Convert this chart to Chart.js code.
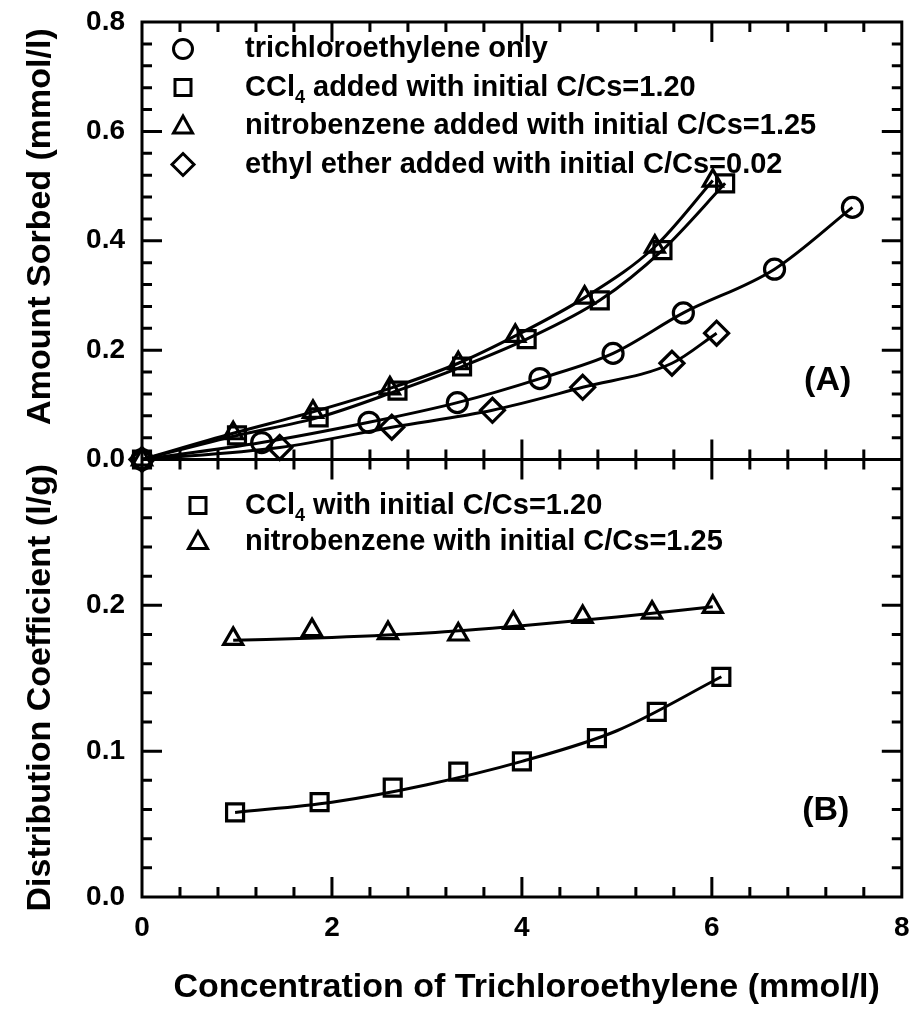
<!DOCTYPE html>
<html>
<head>
<meta charset="utf-8">
<script src="https://cdn.jsdelivr.net/npm/chart.js@4.4.0/dist/chart.umd.min.js"></script>
<style>
html, body { margin: 0; padding: 0; background: #fff; }
</style>
</head>
<body>
<canvas id="sorption" width="917" height="1017"></canvas>
<script>
// panel (A): amount sorbed vs TCE concentration
const tceX = [0, 1.26, 2.39, 3.32, 4.19, 4.96, 5.70, 6.66, 7.48];
const tceY = [0, 0.031, 0.068, 0.104, 0.148, 0.194, 0.268, 0.348, 0.461];
const cclX = [0, 1.00, 1.86, 2.69, 3.37, 4.05, 4.82, 5.48, 6.14];
const cclY = [0, 0.044, 0.077, 0.126, 0.170, 0.220, 0.291, 0.383, 0.505];
const nbX = [0, 0.96, 1.80, 2.61, 3.33, 3.93, 4.66, 5.40, 6.01];
const nbY = [0, 0.048, 0.087, 0.130, 0.176, 0.226, 0.296, 0.389, 0.510];
const etherX = [0, 1.45, 2.63, 3.69, 4.64, 5.58, 6.05];
const etherY = [0, 0.022, 0.059, 0.090, 0.132, 0.176, 0.231];

// panel (B): distribution coefficient
const kdCclX = [0.98, 1.87, 2.64, 3.33, 4.00, 4.79, 5.42, 6.10];
const kdCclY = [0.058, 0.065, 0.075, 0.086, 0.093, 0.109, 0.127, 0.151];
const kdNbX = [0.96, 1.79, 2.59, 3.33, 3.91, 4.64, 5.37, 6.01];
const kdNbY = [0.177, 0.183, 0.181, 0.180, 0.188, 0.192, 0.195, 0.199];
// fitted curves
const fitCclX = [0.98, 2.0, 3.0, 4.0, 5.0, 6.10];
const fitCclY = [0.058, 0.065, 0.077, 0.093, 0.114, 0.151];
const fitNbX = [0.96, 2.0, 3.0, 4.0, 5.0, 6.01];
const fitNbY = [0.176, 0.178, 0.181, 0.186, 0.192, 0.199];

const xTicks = [0, 2, 4, 6, 8];
const legendA = ['trichloroethylene only', 'CCl4 added with initial C/Cs=1.20',
  'nitrobenzene added with initial C/Cs=1.25', 'ethyl ether added with initial C/Cs=0.02'];
const legendB = ['CCl4 with initial C/Cs=1.20', 'nitrobenzene with initial C/Cs=1.25'];

const FAMILY = '"Liberation Sans", Arial, Helvetica, sans-serif';
const pts = (xs, ys) => xs.map((x, i) => ({x: x, y: ys[i]}));

function series(xs, ys, style, axis, radius) {
    return {
        data: pts(xs, ys),
        yAxisID: axis,
        showLine: true,
        cubicInterpolationMode: 'monotone',
        borderColor: '#000',
        borderWidth: 3,
        pointStyle: style,
        pointRadius: radius,
        pointBorderWidth: 3.2,
        pointBackgroundColor: 'rgba(0,0,0,0)',
        pointBorderColor: '#000',
        clip: false,
    };
}
function markersOnly(xs, ys, style, axis, radius) {
    const d = series(xs, ys, style, axis, radius);
    d.showLine = false;
    return d;
}
function curve(xs, ys, axis) {
    return {
        data: pts(xs, ys), yAxisID: axis, showLine: true,
        cubicInterpolationMode: 'monotone', borderColor: '#000', borderWidth: 3,
        pointRadius: 0, clip: false,
    };
}

// hand drawn marker for the legend
function marker(ctx, style, x, y) {
    ctx.beginPath();
    if (style == 'circle') {
        ctx.arc(x, y, 9.5, 0, Math.PI * 2);
    } else if (style == 'rect') {
        ctx.rect(x - 8, y - 8, 16, 16);
    } else if (style == 'triangle') {
        ctx.moveTo(x, y - 10); ctx.lineTo(x + 9.5, y + 7); ctx.lineTo(x - 9.5, y + 7); ctx.closePath();
    } else {
        ctx.moveTo(x, y - 11); ctx.lineTo(x + 11, y); ctx.lineTo(x, y + 11); ctx.lineTo(x - 11, y); ctx.closePath();
    }
    ctx.stroke();
}
// draws "CCl4 ..." with the 4 as subscript
function label(ctx, text, x, y) {
    if (text.startsWith('CCl4')) {
        ctx.fillText('CCl', x, y);
        let w = ctx.measureText('CCl').width;
        const big = ctx.font;
        ctx.font = 'bold 18px ' + FAMILY;
        ctx.fillText('4', x + w, y + 11);
        const w4 = ctx.measureText('4').width;
        ctx.font = big;
        ctx.fillText(text.slice(4), x + w + w4, y);
    } else {
        ctx.fillText(text, x, y);
    }
}

const frame = {
    id: 'frame',
    afterDraw(chart) {
        const {ctx, chartArea: a, scales} = chart;
        const xs = scales.x, ya = scales.yA, yb = scales.yB;
        const mid = ya.bottom;
        ctx.save();
        ctx.strokeStyle = '#000';
        ctx.lineWidth = 3;
        ctx.strokeRect(a.left, a.top, a.right - a.left, a.bottom - a.top);
        ctx.beginPath(); ctx.moveTo(a.left, mid); ctx.lineTo(a.right, mid); ctx.stroke();

        ctx.beginPath();
        for (let i = 1; i < 20; i++) {
            const px = xs.getPixelForValue(i * 0.4);
            const len = i % 5 == 0 ? 20 : 10;
            ctx.moveTo(px, a.bottom); ctx.lineTo(px, a.bottom - len);
            ctx.moveTo(px, a.top); ctx.lineTo(px, a.top + len);
            ctx.moveTo(px, mid - len); ctx.lineTo(px, mid + len);
        }
        for (let i = 1; i < 20; i++) {
            const py = ya.getPixelForValue(i * 0.04);
            const len = i % 5 == 0 ? 20 : 10;
            ctx.moveTo(a.left, py); ctx.lineTo(a.left + len, py);
            ctx.moveTo(a.right, py); ctx.lineTo(a.right - len, py);
        }
        for (let i = 1; i < 15; i++) {
            const py = yb.getPixelForValue(i * 0.02);
            const len = i % 5 == 0 ? 20 : 10;
            ctx.moveTo(a.left, py); ctx.lineTo(a.left + len, py);
            ctx.moveTo(a.right, py); ctx.lineTo(a.right - len, py);
        }
        ctx.stroke();

        // legends
        ctx.fillStyle = '#000';
        ctx.textBaseline = 'middle';
        ctx.font = 'bold 29px ' + FAMILY;
        const stylesA = ['circle', 'rect', 'triangle', 'rectRot'];
        legendA.forEach((t, i) => {
            const y = a.top + 27 + i * 38.5;
            marker(ctx, stylesA[i], a.left + 41, y);
            label(ctx, t, a.left + 103, y);
        });
        const stylesB = ['rect', 'triangle'];
        legendB.forEach((t, i) => {
            const y = mid + 46 + i * 36;
            marker(ctx, stylesB[i], a.left + 56, y);
            label(ctx, t, a.left + 103, y);
        });

        ctx.font = 'bold 34px ' + FAMILY;
        ctx.textAlign = 'center';
        ctx.fillText('(A)', xs.getPixelForValue(7.22), ya.getPixelForValue(0.145));
        ctx.fillText('(B)', xs.getPixelForValue(7.20), yb.getPixelForValue(0.059));
        ctx.restore();
    }
};

const tickFont = {family: FAMILY, weight: 'bold', size: 28};
const titleFont = {family: FAMILY, weight: 'bold', size: 34};

new Chart(document.getElementById('sorption'), {
    type: 'scatter',
    data: {
        datasets: [
            series(tceX, tceY, 'circle', 'yA', 10),
            series(cclX, cclY, 'rect', 'yA', 12),
            series(nbX, nbY, 'triangle', 'yA', 11),
            series(etherX, etherY, 'rectRot', 'yA', 12),
            curve(fitCclX, fitCclY, 'yB'),
            curve(fitNbX, fitNbY, 'yB'),
            markersOnly(kdCclX, kdCclY, 'rect', 'yB', 12),
            markersOnly(kdNbX, kdNbY, 'triangle', 'yB', 11),
        ],
    },
    options: {
        responsive: false,
        animation: false,
        devicePixelRatio: 1,
        layout: {padding: {top: 22, right: 15, left: 0, bottom: 0}},
        plugins: {legend: {display: false}, tooltip: {enabled: false}},
        scales: {
            x: {
                type: 'linear', min: 0, max: 8,
                afterBuildTicks: (s) => { s.ticks = xTicks.map(v => ({value: v})); },
                ticks: {font: tickFont, color: '#000', padding: 14, maxRotation: 0},
                grid: {display: false, drawTicks: false},
                border: {display: false},
                title: {display: true, text: ' Concentration of Trichloroethylene (mmol/l)',
                    font: titleFont, color: '#000', padding: {top: 0, bottom: 9}},
                afterFit: (s) => { s.height = 120; s.paddingLeft = 0; s.paddingRight = 0; },
            },
            yB: {
                type: 'linear', position: 'left', stack: 'panels', stackWeight: 1,
                min: 0, max: 0.3,
                ticks: {stepSize: 0.1, font: tickFont, color: '#000', padding: 17,
                    callback: (v) => v > 0.25 ? '' : v.toFixed(1)},
                grid: {display: false, drawTicks: false},
                border: {display: false},
                title: {display: true, text: 'Distribution Coefficient (l/g)  ',
                    font: titleFont, color: '#000', padding: {top: 20, bottom: 0}},
                afterFit: (s) => { s.width = 142; s.paddingTop = 0; s.paddingBottom = 0; },
            },
            yA: {
                type: 'linear', position: 'left', stack: 'panels', stackWeight: 1,
                min: 0, max: 0.8,
                ticks: {stepSize: 0.2, font: tickFont, color: '#000', padding: 17,
                    callback: (v) => v.toFixed(1)},
                grid: {display: false, drawTicks: false},
                border: {display: false},
                title: {display: true, text: '   Amount Sorbed (mmol/l)',
                    font: titleFont, color: '#000', padding: {top: 20, bottom: 0}},
                afterFit: (s) => { s.width = 142; s.paddingTop = 0; s.paddingBottom = 0; },
            },
        },
    },
    plugins: [frame],
});
</script>
</body>
</html>
